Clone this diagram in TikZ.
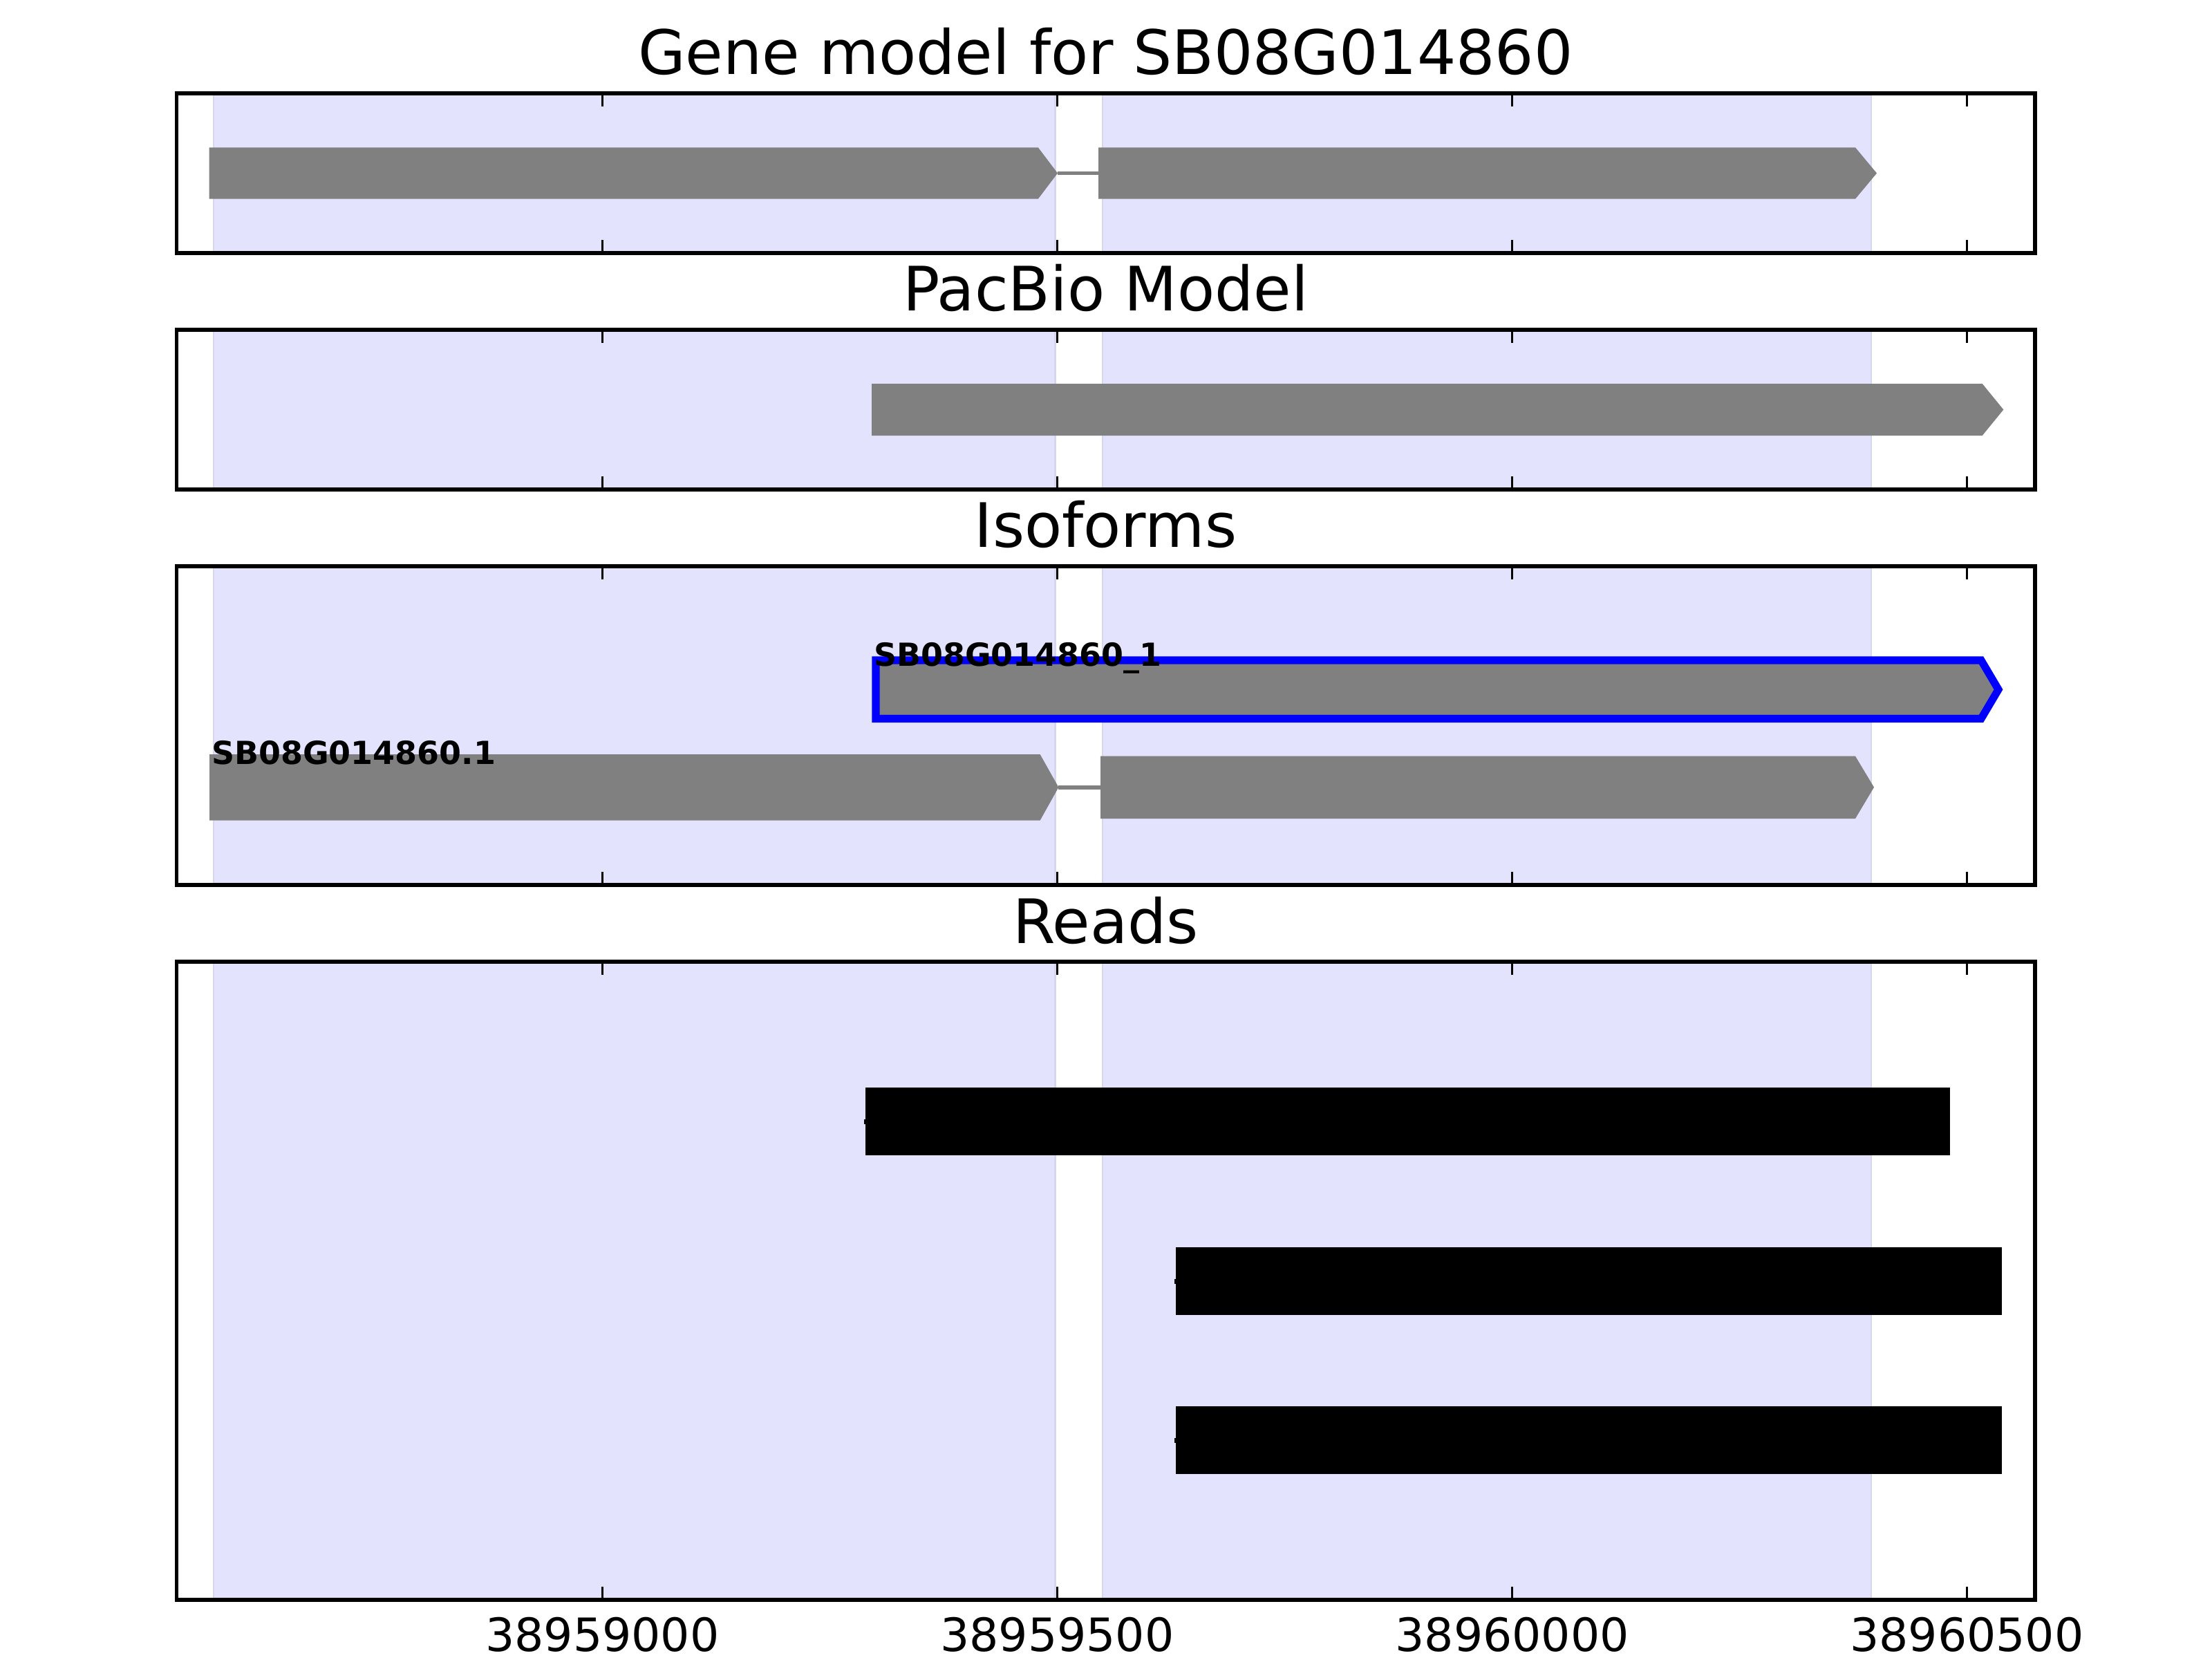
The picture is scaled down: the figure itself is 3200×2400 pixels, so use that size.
\documentclass[tikz,border=0pt]{standalone}
\usepackage{fontspec}
\setmainfont{DejaVu Sans}
\begin{document}
\begin{tikzpicture}[x=0.00635cm,y=-0.00635cm,
  spanbox/.style={fill={rgb,255:red,227;green,227;blue,253},draw={rgb,255:red,214;green,214;blue,236},line width=0.5pt},
  framebox/.style={draw=black,line width=1pt},
  tickline/.style={draw=black,line width=0.5pt},
  exon/.style={fill={rgb,255:red,128;green,128;blue,128}},
  intron/.style={draw={rgb,255:red,128;green,128;blue,128},line width=1pt},
  isobox/.style={fill={rgb,255:red,128;green,128;blue,128},draw={rgb,255:red,0;green,0;blue,255},line width=2pt,line join=miter},
  readbar/.style={fill=black},
  paneltitle/.style={font=\fontsize{16}{19}\selectfont,inner sep=0pt,anchor=base},
  ticklabel/.style={font=\fontsize{12}{14}\selectfont,inner sep=0pt,anchor=base},
  isolabel/.style={font=\fontsize{8.3}{10}\selectfont\bfseries,inner sep=0pt,anchor=base west}]
\useasboundingbox (0,0) rectangle (3200,2400);
\fill[white] (0,0) rectangle (3200,2400);

% shaded exon spans in every panel
\foreach \t/\b in {135/366,477/708,819/1280,1391/2314}{
  \filldraw[spanbox] (309,\t) rectangle (1526.5,\b);
  \filldraw[spanbox] (1595,\t) rectangle (2707,\b);
}

% Panel 1: gene model
\fill[exon] (302.7,213.3) -- (1501.8,213.3) -- (1530,250.5) -- (1501.8,287.7) -- (302.7,287.7) -- cycle;
\coordinate (g1tip) at (1530,250.5);
\coordinate (g2start) at (1589,250.5);
\draw[intron] (g1tip) -- (g2start);
\fill[exon] (1589,213.3) -- (2684,213.3) -- (2715,250.5) -- (2684,287.7) -- (1589,287.7) -- cycle;

% Panel 2: PacBio model
\fill[exon] (1261,555) -- (2867.7,555) -- (2898.3,592.5) -- (2867.7,630) -- (1261,630) -- cycle;

% Panel 3: isoforms
\filldraw[isobox] (1267,955) -- (2866,955) -- (2891,997.3) -- (2866,1039.5) -- (1267,1039.5) -- cycle;
\fill[exon] (303,1091) -- (1504.6,1091) -- (1531.4,1138.7) -- (1504.6,1186.7) -- (303,1186.7) -- cycle;
\coordinate (i1tip) at (1531.4,1139);
\coordinate (i2start) at (1592,1139);
\draw[intron] (i1tip) -- (i2start);
\fill[exon] (1592,1093.7) -- (2684,1093.7) -- (2711,1138.7) -- (2684,1184) -- (1592,1184) -- cycle;
\node[isolabel] (lab1) at (1263,963) {SB08G014860\_1};
\node[isolabel] (lab2) at (305,1105) {SB08G014860.1};

% Panel 4: reads
\fill[readbar] (1252.3,1573) rectangle (2820.7,1670.6);
\fill[readbar] (1249.5,1618.5) rectangle (1252.3,1625.5);
\fill[readbar] (1701.3,1804.3) rectangle (2895.7,1902);
\fill[readbar] (1698.5,1849.5) rectangle (1701.3,1856.5);
\fill[readbar] (1701.3,2034) rectangle (2895.7,2131.6);
\fill[readbar] (1698.5,2079.5) rectangle (1701.3,2086.5);

% frames and ticks
\foreach \t/\b in {135/366,477/708,819/1280,1391/2314}{
  \foreach \x in {871.5,1529.5,2187.6,2845.5}{
    \draw[tickline] (\x,\t) -- ++(0,19.4);
    \draw[tickline] (\x,\b) -- ++(0,-19.4);
  }
  \draw[framebox] (255.3,\t) rectangle (2944,\b);
}

% titles
\node[paneltitle] (title1) at (1599.5,107.5) {Gene model for SB08G014860};
\node[paneltitle] (title2) at (1599.5,449.5) {PacBio Model};
\node[paneltitle] (title3) at (1599.5,791.5) {Isoforms};
\node[paneltitle] (title4) at (1599.5,1364) {Reads};

% tick labels
\node[ticklabel] (tl1) at (871.5,2388) {38959000};
\node[ticklabel] (tl2) at (1529.5,2388) {38959500};
\node[ticklabel] (tl3) at (2187.6,2388) {38960000};
\node[ticklabel] (tl4) at (2845.5,2388) {38960500};
\end{tikzpicture}
\end{document}
